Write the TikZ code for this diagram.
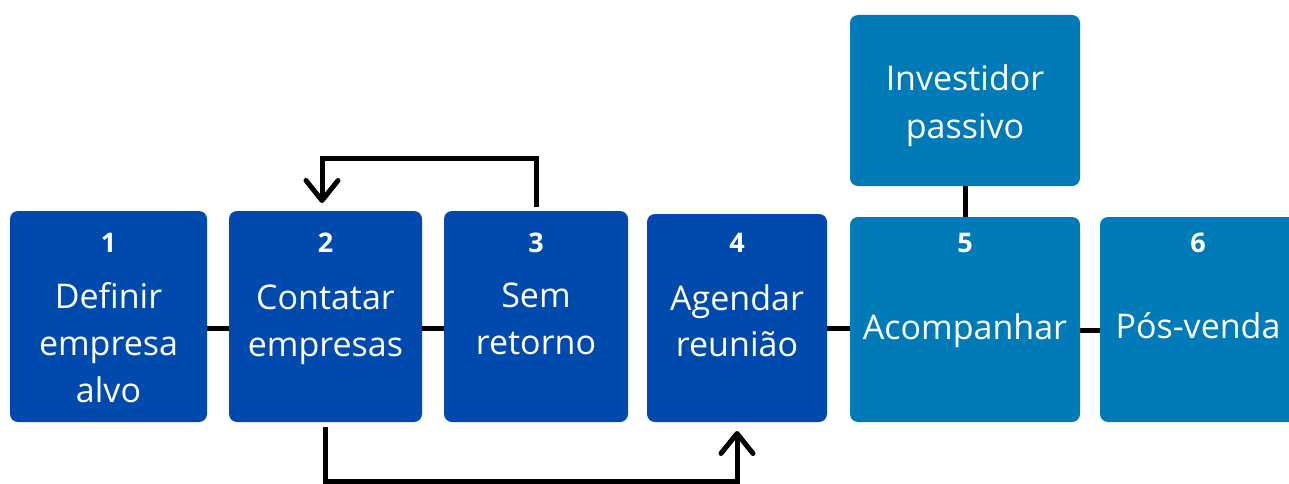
\documentclass[tikz,border=0pt]{standalone}
\usepackage{fontspec}
\setmainfont{Open Sans}
\usetikzlibrary{arrows.meta}
\definecolor{dblue}{RGB}{0,74,173}
\definecolor{lblue}{RGB}{0,123,183}
\begin{document}
\begin{tikzpicture}[x=1pt,y=-1pt,
  box/.style={draw=none, rounded corners=8pt, inner sep=0pt, outer sep=0pt},
  txt/.style={text=white, anchor=base, inner sep=0pt, font=\fontsize{34}{40}\selectfont},
  num/.style={text=white, anchor=base, inner sep=0pt, font=\fontsize{27}{32}\selectfont\bfseries},
  conn/.style={line width=5pt, black},
  arr/.style={line width=5pt, black, -{Straight Barb[length=20pt,width=32pt,round]}}]
\useasboundingbox (0,0) rectangle (1289,484);
\clip (0,0) rectangle (1289,484);
% boxes
\node[box, fill=dblue, minimum width=197pt, minimum height=211pt] (b1) at (108.5,316.5) {};
\node[box, fill=dblue, minimum width=193pt, minimum height=211pt] (b2) at (325.5,316.5) {};
\node[box, fill=dblue, minimum width=184pt, minimum height=211pt] (b3) at (536,316.5) {};
\node[box, fill=dblue, minimum width=180pt, minimum height=208pt] (b4) at (737,318) {};
\node[box, fill=lblue, minimum width=230pt, minimum height=205pt] (b5) at (965,319.5) {};
\node[box, fill=lblue, minimum width=200pt, minimum height=205pt] (b6) at (1200,319.5) {};
\node[box, fill=lblue, minimum width=230pt, minimum height=171pt] (inv) at (965,100.5) {};
% connectors
\coordinate (lineA) at (0,328);
\coordinate (lineB) at (0,330);
\draw[conn] (b1.east |- lineA) -- (b2.west |- lineA);
\draw[conn] (b2.east |- lineA) -- (b3.west |- lineA);
\draw[conn] (b4.east |- lineA) -- (b5.west |- lineA);
\draw[conn] (b5.east |- lineB) -- (b6.west |- lineB);
\draw[conn] (inv.south) -- (b5.north);
\coordinate (loopT) at (430,158);
\coordinate (loopB) at (530,481);
\draw[arr] ([yshift=4pt]b3.north) |- (loopT) -| ([xshift=-3.5pt,yshift=8pt]b2.north);
\draw[arr] ([yshift=-5pt]b2.south) |- (loopB) -| ([yshift=-9pt]b4.south);
% texts
\node[num] (n1) at (108.5,252) {1};
\node[txt] (t1a) at (108.5,308) {Definir};
\node[txt] (t1b) at (108.5,355) {empresa};
\node[txt] (t1c) at (108.5,402) {alvo};
\node[num] (n2) at (325.5,252) {2};
\node[txt] (t2a) at (325.5,309) {Contatar};
\node[txt] (t2b) at (325.5,356) {empresas};
\node[num] (n3) at (536,252) {3};
\node[txt] (t3a) at (536,307) {Sem};
\node[txt] (t3b) at (536,354) {retorno};
\node[num] (n4) at (737,252) {4};
\node[txt] (t4a) at (737,310) {Agendar};
\node[txt] (t4b) at (737,356) {reunião};
\node[num] (n5) at (965,252) {5};
\node[txt] (t5a) at (965,339) {Acompanhar};
\node[num] (n6) at (1198,252) {6};
\node[txt] (t6a) at (1198,338) {Pós-venda};
\node[txt] (tia) at (965,91) {Investidor};
\node[txt] (tib) at (965,138) {passivo};
\end{tikzpicture}
\end{document}
